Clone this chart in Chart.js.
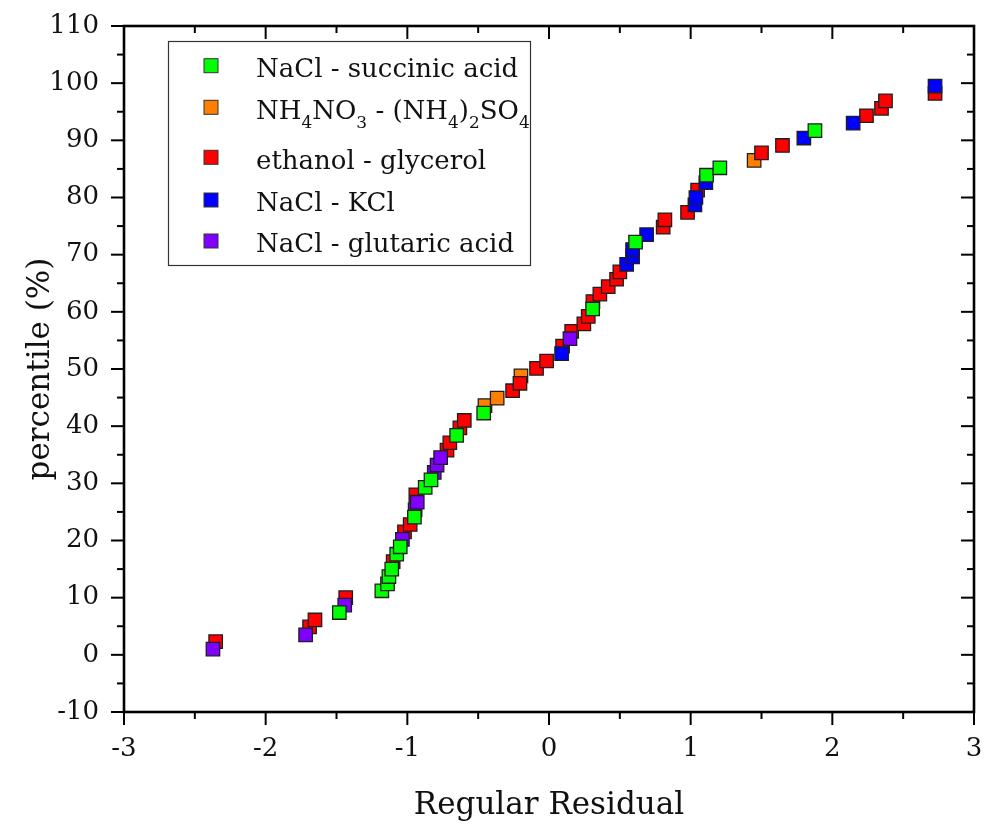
<!DOCTYPE html>
<html>
<head>
<meta charset="utf-8">
<script src="https://cdn.jsdelivr.net/npm/chart.js@4.4.1/dist/chart.umd.min.js"></script>
<style>
  html, body { margin: 0; padding: 0; background: #fff; }
  #wrap { width: 989px; height: 825px; }
</style>
</head>
<body>
<div id="wrap"><canvas id="qq"></canvas></div>
<script>
// tick labels
const xTicks = [-3, -2, -1, 0, 1, 2, 3];
const yTicks = [-10, 0, 10, 20, 30, 40, 50, 60, 70, 80, 90, 100, 110];

// NaCl - succinic acid
const succX = [-1.48, -1.18, -1.14, -1.13, -1.11, -1.075, -1.05, -0.95, -0.874, -0.833, -0.652, -0.461, 0.308, 0.611, 1.112, 1.206, 1.877];
const succY = [7.4, 11.2, 12.4, 13.7, 15.0, 17.6, 18.9, 24.1, 29.3, 30.6, 38.4, 42.3, 60.5, 72.2, 83.9, 85.2, 91.7];

// NH4NO3 - (NH4)2SO4
const ammX = [-0.452, -0.366, -0.198, 1.448];
const ammY = [43.6, 44.9, 48.8, 86.5];

// ethanol - glycerol
const ethX = [-2.353, -1.69, -1.652, -1.435, -1.10, -1.02, -0.98, -0.94, -0.72, -0.70, -0.629, -0.598, -0.257, -0.205, -0.088, -0.017, 0.096, 0.16, 0.246, 0.277, 0.31, 0.359, 0.418, 0.477, 0.5, 0.806, 0.818, 0.978, 1.049, 1.5, 1.648, 2.241, 2.347, 2.375, 2.725];
const ethY = [2.3, 4.9, 6.1, 10.0, 16.3, 21.5, 22.8, 28.0, 35.8, 37.1, 39.7, 41.0, 46.2, 47.5, 50.1, 51.4, 54.0, 56.6, 57.9, 59.2, 61.8, 63.1, 64.4, 65.7, 67.0, 74.8, 76.1, 77.4, 81.3, 87.8, 89.1, 94.3, 95.6, 96.9, 98.2];

// NaCl - KCl
const kclX = [0.089, 0.548, 0.59, 0.59, 0.689, 1.03, 1.037, 1.107, 1.799, 2.147, 2.725];
const kclY = [52.7, 68.3, 69.6, 70.9, 73.5, 78.7, 80.0, 82.6, 90.4, 93.0, 99.5];

// NaCl - glutaric acid
const gluX = [-2.372, -1.718, -1.442, -1.035, -0.945, -0.93, -0.81, -0.79, -0.765, 0.148];
const gluY = [1.0, 3.5, 8.7, 20.2, 25.4, 26.7, 31.9, 33.2, 34.5, 55.3];

const seriesColors = ['#00ff00', '#ff8000', '#ff0000', '#0000ff', '#8000ff'];
// legend labels: [text, isSubscript]
const legendLabels = [
    [['NaCl - succinic acid', 0]],
    [['NH', 0], ['4', 1], ['NO', 0], ['3', 1], [' - (NH', 0], ['4', 1], [')', 0], ['2', 1], ['SO', 0], ['4', 1]],
    [['ethanol - glycerol', 0]],
    [['NaCl - KCl', 0]],
    [['NaCl - glutaric acid', 0]]
];

const FONT = '"DejaVu Serif", serif';

function toPoints(xs, ys) {
    return xs.map((v, i) => ({ x: v, y: ys[i] }));
}

function makeSet(label, xs, ys, color, order) {
    return {
        label: label,
        data: toPoints(xs, ys),
        backgroundColor: color,
        borderColor: '#1e1e1e',
        borderWidth: 1.3,
        pointStyle: 'rect',
        pointRadius: 9.5,
        pointHoverRadius: 9.5,
        order: order
    };
}

// no extra room for label overhang, the frame is placed by layout padding
function fixPad(s) {
    s.paddingTop = 0;
    s.paddingBottom = 0;
    s.paddingLeft = 0;
    s.paddingRight = 0;
}

// frame + ticks (ticks out on bottom/left, in on top/right) + legend box
const framePlugin = {
    id: 'frame',
    afterDraw(chart) {
        const ctx = chart.ctx;
        const a = chart.chartArea;
        const xs = chart.scales.x, ys = chart.scales.y;
        const major = 13, minor = 7;
        ctx.save();
        ctx.strokeStyle = '#000';
        ctx.lineCap = 'butt';

        function seg(x1, y1, x2, y2) {
            ctx.beginPath();
            ctx.moveTo(x1, y1);
            ctx.lineTo(x2, y2);
            ctx.stroke();
        }

        ctx.lineWidth = 2;
        for (let i = 0; i < xTicks.length; i++) {
            const px = xs.getPixelForValue(xTicks[i]);
            seg(px, a.bottom, px, a.bottom + major);
            seg(px, a.top, px, a.top + major);
            if (i < xTicks.length - 1) {
                const mx = xs.getPixelForValue((xTicks[i] + xTicks[i + 1]) / 2);
                seg(mx, a.bottom, mx, a.bottom + minor);
                seg(mx, a.top, mx, a.top + minor);
            }
        }
        for (let i = 0; i < yTicks.length; i++) {
            const py = ys.getPixelForValue(yTicks[i]);
            seg(a.left - major, py, a.left, py);
            seg(a.right - major, py, a.right, py);
            if (i < yTicks.length - 1) {
                const my = ys.getPixelForValue((yTicks[i] + yTicks[i + 1]) / 2);
                seg(a.left - minor, my, a.left, my);
                seg(a.right - minor, my, a.right, my);
            }
        }
        ctx.lineWidth = 2.6;
        ctx.strokeRect(a.left, a.top, a.right - a.left, a.bottom - a.top);

        // legend
        const boxL = 168.5, boxT = 41.5, boxR = 530.5, boxB = 265.5;
        ctx.fillStyle = '#fff';
        ctx.fillRect(boxL, boxT, boxR - boxL, boxB - boxT);
        ctx.lineWidth = 1.2;
        ctx.strokeStyle = '#333';
        ctx.strokeRect(boxL, boxT, boxR - boxL, boxB - boxT);

        const rowY = [65.7, 107.3, 157.3, 200, 241];
        const fs = 26;
        ctx.textBaseline = 'alphabetic';
        ctx.textAlign = 'left';
        for (let r = 0; r < legendLabels.length; r++) {
            const cy = rowY[r];
            ctx.fillStyle = seriesColors[r];
            ctx.fillRect(204, cy - 7, 14, 14);
            ctx.lineWidth = 1;
            ctx.strokeStyle = '#333';
            ctx.strokeRect(204, cy - 7, 14, 14);

            let tx = 256;
            const base = cy + 11.3;
            ctx.fillStyle = '#111';
            for (const [txt, sub] of legendLabels[r]) {
                ctx.font = (sub ? 17 : fs) + 'px ' + FONT;
                ctx.fillText(txt, tx, sub ? base + 9 : base);
                tx += ctx.measureText(txt).width;
            }
        }
        ctx.restore();
    }
};

new Chart(document.getElementById('qq'), {
    type: 'scatter',
    data: {
        datasets: [
            makeSet('NaCl - succinic acid', succX, succY, seriesColors[0], 0),
            makeSet('NH4NO3 - (NH4)2SO4', ammX, ammY, seriesColors[1], 4),
            makeSet('ethanol - glycerol', ethX, ethY, seriesColors[2], 3),
            makeSet('NaCl - KCl', kclX, kclY, seriesColors[3], 2),
            makeSet('NaCl - glutaric acid', gluX, gluY, seriesColors[4], 1)
        ]
    },
    options: {
        responsive: true,
        maintainAspectRatio: false,
        animation: false,
        devicePixelRatio: 1,
        layout: { padding: { left: 0, top: 26, right: 15, bottom: 0 } },
        plugins: {
            legend: { display: false },
            tooltip: { enabled: false }
        },
        scales: {
            x: {
                type: 'linear',
                min: -3, max: 3,
                afterFit(s) { s.height = 113; fixPad(s); },
                afterBuildTicks(s) { s.ticks = xTicks.map(v => ({ value: v })); },
                grid: { display: false, drawTicks: false },
                border: { display: false },
                ticks: {
                    color: '#111',
                    padding: 22,
                    font: { family: FONT, size: 26, lineHeight: 1.2 }
                },
                title: {
                    display: true,
                    text: 'Regular Residual',
                    color: '#111',
                    padding: { top: 0, bottom: 0 },
                    font: { family: FONT, size: 31, lineHeight: 1.2 }
                }
            },
            y: {
                type: 'linear',
                min: -10, max: 110,
                afterFit(s) { s.width = 124; fixPad(s); },
                afterBuildTicks(s) { s.ticks = yTicks.map(v => ({ value: v })); },
                grid: { display: false, drawTicks: false },
                border: { display: false },
                ticks: {
                    color: '#111',
                    padding: 25,
                    font: { family: FONT, size: 26, lineHeight: 1.2 }
                },
                title: {
                    display: true,
                    text: 'percentile (%)',
                    color: '#111',
                    padding: { top: 22, bottom: 0 },
                    font: { family: FONT, size: 31, lineHeight: 1.2 }
                }
            }
        }
    },
    plugins: [framePlugin]
});
</script>
</body>
</html>
